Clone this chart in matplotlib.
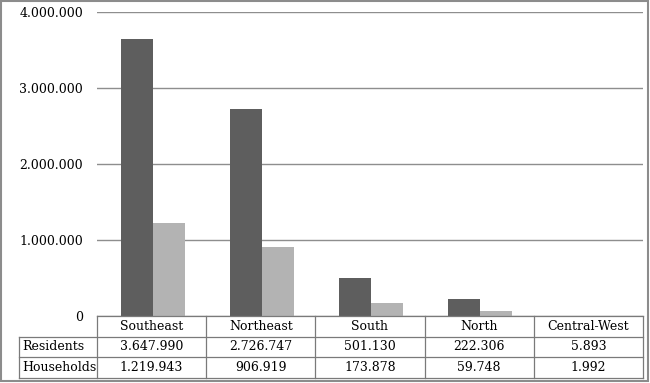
import matplotlib
matplotlib.use("Agg")
import matplotlib.pyplot as plt
from matplotlib.patches import Rectangle
from matplotlib.lines import Line2D
import numpy as np

categories = ["Southeast", "Northeast", "South", "North", "Central-West"]
residents = [3647990, 2726747, 501130, 222306, 5893]
households = [1219943, 906919, 173878, 59748, 1992]
series_names = ["Residents", "Households"]
yticks = [0, 1000000, 2000000, 3000000, 4000000]

def fmt(v):
    return f"{v:,}".replace(",", ".")

W, H = 650, 383
fig = plt.figure(figsize=(W / 100, H / 100), dpi=100)
plt.rcParams['font.family'] = ['DejaVu Serif']
FS = 9

x0, x1 = 97, 643
y_top, y_zero = 12, 316
ax = fig.add_axes([x0 / W, (H - y_zero) / H, (x1 - x0) / W, (y_zero - y_top) / H])
n = len(categories)
x = np.arange(n)
bw = 0.293
ax.bar(x - bw / 2 + 0.01, residents, bw, color="#5e5e5e", zorder=3)
ax.bar(x + bw / 2 + 0.01, households, bw, color="#b3b3b3", zorder=3)
ax.set_xlim(-0.5, n - 0.5)
ax.set_ylim(0, 4000000)
ax.set_yticks(yticks)
ax.set_yticklabels([fmt(v) for v in yticks], fontsize=FS)
ax.tick_params(axis='y', length=0, pad=10)
ax.set_xticks([])
ax.grid(axis='y', color="#8e8e8e", linewidth=1.0, zorder=0)
for s in ax.spines.values():
    s.set_visible(False)

# data table (figure pixel coords)
def fx(px):
    return px / W
def fy(py):
    return 1 - py / H

rows_y = [316, 337, 357, 378]
lbl_x0 = 19
col_edges = [x0 + (x1 - x0) * i / n for i in range(n + 1)]
lc = "#7a7a7a"
lw = 0.9
fig.add_artist(Line2D([fx(x0), fx(x1)], [fy(rows_y[0])] * 2, color=lc, lw=lw))
for ry in rows_y[1:]:
    fig.add_artist(Line2D([fx(lbl_x0), fx(x1)], [fy(ry)] * 2, color=lc, lw=lw))
fig.add_artist(Line2D([fx(lbl_x0)] * 2, [fy(rows_y[1]), fy(rows_y[3])], color=lc, lw=lw))
for cx in col_edges:
    fig.add_artist(Line2D([fx(cx)] * 2, [fy(rows_y[0]), fy(rows_y[3])], color=lc, lw=lw))

for i, c in enumerate(categories):
    cx = (col_edges[i] + col_edges[i + 1]) / 2
    fig.text(fx(cx), fy((rows_y[0] + rows_y[1]) / 2), c, ha='center', va='center', fontsize=FS)
    fig.text(fx(cx), fy((rows_y[1] + rows_y[2]) / 2), fmt(residents[i]), ha='center', va='center', fontsize=FS)
    fig.text(fx(cx), fy((rows_y[2] + rows_y[3]) / 2), fmt(households[i]), ha='center', va='center', fontsize=FS)
for j, name in enumerate(series_names):
    fig.text(fx(lbl_x0 + 3), fy((rows_y[j + 1] + rows_y[j + 2]) / 2), name, ha='left', va='center', fontsize=FS)

# outer border
fig.add_artist(Rectangle((1 / W, 1 - 381 / H), 647 / W, 380 / H, transform=fig.transFigure,
                         fill=False, edgecolor="#8c8c8c", lw=1.5))

fig.savefig("out.png", dpi=100)
